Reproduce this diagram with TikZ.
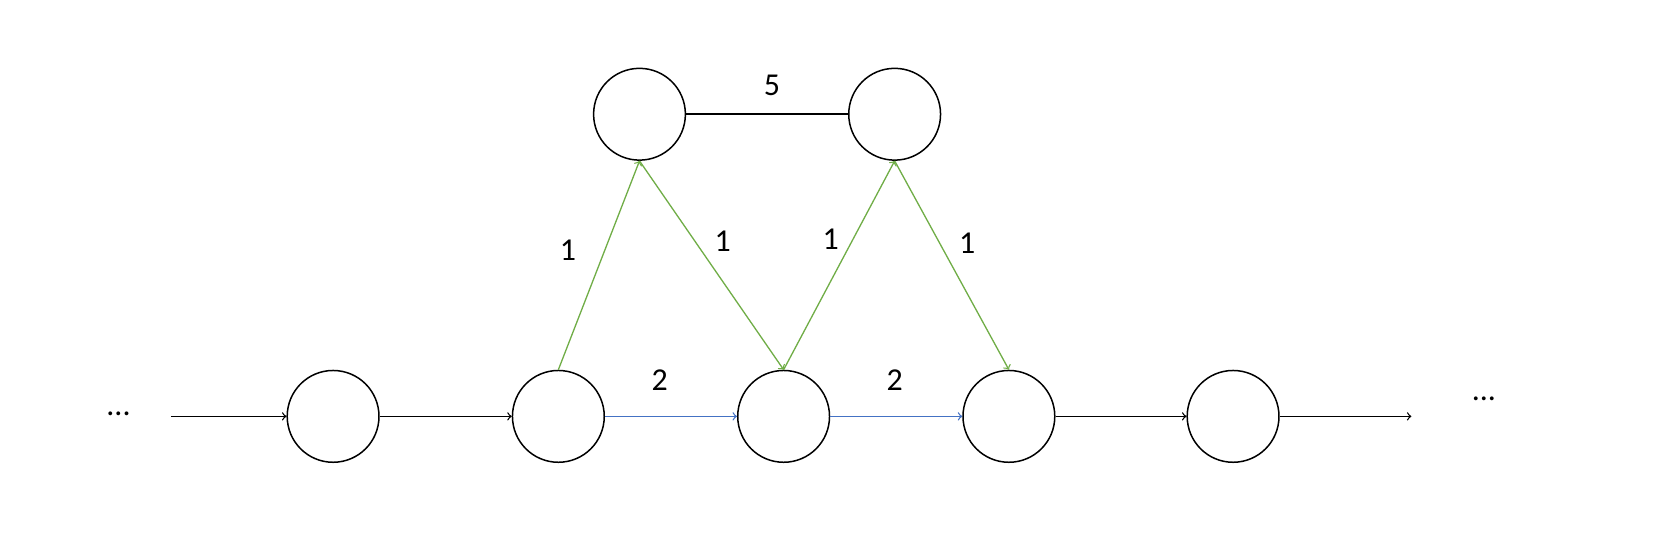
\documentclass[tikz,border=0pt]{standalone}
\usepackage{fontspec}
\setmainfont{Carlito}
\begin{document}
\begin{tikzpicture}[x=0.02cm,y=-0.02cm,
  vtx/.style={circle,draw,line width=0.8pt,minimum size=1.72cm,inner sep=0pt},
  lbl/.style={font=\fontsize{17}{20}\selectfont},
  arr/.style={->,>=to,line width=0.7pt},
  grn/.style={arr,draw={rgb,255:red,112;green,173;blue,71}},
  blu/.style={arr,draw={rgb,255:red,68;green,114;blue,196}}]
\useasboundingbox (0,0) rectangle (1568,511);
\node[vtx] (t1) at (599,107) {};
\node[vtx] (t2) at (838,107) {};
\node[vtx] (b1) at (312,390) {};
\node[vtx] (b2) at (523,390) {};
\node[vtx] (b3) at (734,390) {};
\node[vtx] (b4) at (945,390) {};
\node[vtx] (b5) at (1155,390) {};
\node[lbl] (dl) at (111,388) {...};
\node[lbl] (dr) at (1390,374) {...};
\coordinate (s) at (160,390);
\coordinate (e) at (1322,390);
\draw[arr] (s) -- (b1);
\draw[arr] (b1) -- (b2);
\draw[blu] (b2) -- (b3);
\draw[blu] (b3) -- (b4);
\draw[arr] (b4) -- (b5);
\draw[arr] (b5) -- (e);
\draw[line width=1.2pt] (t1) -- (t2);
\draw[grn] (b2.north) -- (t1.south);
\draw[grn] (t1.south) -- (b3.north);
\draw[grn] (b3.north) -- (t2.south);
\draw[grn] (t2.south) -- (b4.north);
\node[lbl] (l5) at (723,80) {5};
\node[lbl] (la) at (532,234) {1};
\node[lbl] (lb) at (677,226) {1};
\node[lbl] (lc) at (778,224) {1};
\node[lbl] (ld) at (906,228) {1};
\node[lbl] (le) at (618,356) {2};
\node[lbl] (lf) at (838,356) {2};
\end{tikzpicture}
\end{document}
